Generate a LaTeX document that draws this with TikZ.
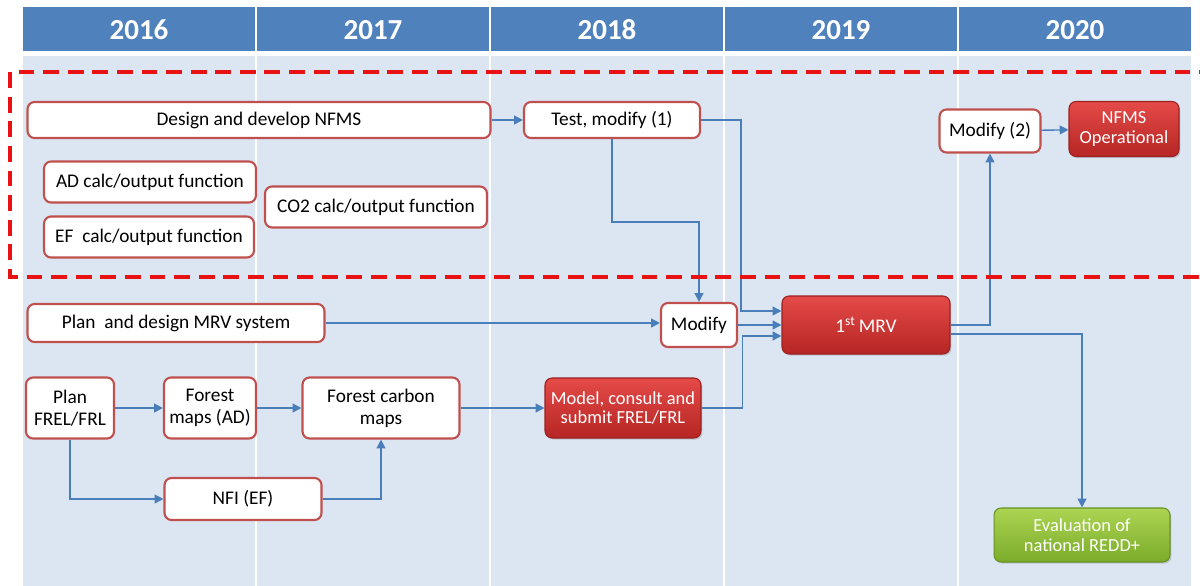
\documentclass[tikz,border=0pt]{standalone}
\usepackage{fontspec}
\setmainfont{Carlito}
\usetikzlibrary{arrows.meta,shadows}
\definecolor{HeadClr}{RGB}{79,129,189}
\definecolor{LaneClr}{RGB}{220,230,242}
\definecolor{EdgeClr}{RGB}{192,80,77}
\definecolor{LinkClr}{RGB}{74,126,187}
\definecolor{RedTop}{RGB}{228,74,72}
\definecolor{RedBot}{RGB}{182,38,36}
\definecolor{GreenTop}{RGB}{172,212,82}
\definecolor{GreenBot}{RGB}{122,172,42}
\definecolor{FrameClr}{RGB}{232,18,18}

\tikzset{
  box/.style={draw=EdgeClr,line width=1.2pt,fill=white,rounded corners=4pt,
    align=center,inner sep=1pt,font=\fontsize{11}{12.5}\selectfont},
  redbox/.style={box,draw=RedBot!85!black,line width=.6pt,top color=RedTop,
    bottom color=RedBot,text=white,font=\fontsize{10.5}{11}\selectfont,
    drop shadow={opacity=.35,shadow xshift=.8pt,shadow yshift=-.9pt}},
  greenbox/.style={redbox,draw=GreenBot!85!black,top color=GreenTop,
    bottom color=GreenBot},
  sized/.style 2 args={minimum width=#1cm,minimum height=#2cm},
  link/.style={draw=LinkClr,line width=.8pt,-{Triangle[length=5pt,width=5pt]}}
}

\begin{document}
\begin{tikzpicture}[x=0.02cm,y=-0.02cm]
\useasboundingbox (0,0) rectangle (1200,585);

% year lanes
\foreach \yr [count=\i from 0] in {2016,2017,2018,2019,2020}{
  \fill[HeadClr] ({23+234*\i},7) rectangle ({21+234*(\i+1)},51);
  \fill[LaneClr] ({23+234*\i},56) rectangle ({21+234*(\i+1)},590);
  \node[text=white,font=\fontsize{16.5}{18}\bfseries\selectfont]
    (h\yr) at ({22+234*\i+117},30) {\yr};
}

% NFMS
\node[box,sized={9.26}{0.72}] (nfms) at (259,120) {Design and develop NFMS};
\node[box,sized={3.52}{0.72}] (test) at (612,120) {Test, modify (1)};
\node[box,sized={4.24}{0.82}] (adcalc) at (150,182) {AD calc/output function};
\node[box,sized={4.2}{0.82}] (efcalc) at (149,237) {EF~ calc/output function};
\node[box,sized={4.44}{0.82}] (cocalc) at (376,207) {CO2 calc/output function};
\node[box,sized={2.02}{0.86}] (modtwo) at (990,131) {Modify (2)};
\node[redbox,sized={2.2}{1.1}] (nfmsop) at (1124,129) {NFMS\\Operational};

% MRV
\node[box,sized={5.94}{0.76}] (mrvplan) at (176,323) {Plan~ and design MRV system};
\node[box,sized={1.52}{0.88}] (modone) at (699,325) {Modify};
\node[redbox,sized={3.36}{1.16},font=\fontsize{11}{12}\selectfont] (mrv) at (866,325) {1\textsuperscript{st}\,MRV};

% FREL/FRL
\node[box,sized={1.76}{1.22}] (frel) at (70,408) {Plan\\FREL/FRL};
\node[box,sized={1.84}{1.22}] (fmaps) at (210,408) {Forest\\maps (AD)};
\node[box,sized={3.14}{1.22}] (fcarbon) at (381,408) {Forest carbon\\maps};
\node[redbox,sized={3.12}{1.2}] (model) at (623,408) {Model, consult and\\submit FREL/FRL};
\node[box,sized={3.14}{0.84}] (nfi) at (243,499) {NFI (EF)};
\node[greenbox,sized={3.52}{1.08}] (redd) at (1082,535) {Evaluation of\\national REDD+};

% links
\draw[link] (nfms) -- (test);
\draw[link] (test.east) -- ++(40,0) |- ([yshift=.28cm]mrv.west);
\draw[link] (test.south) -- ++(0,83) -| (modone.north);
\draw[link] (mrvplan.east) -- (mrvplan.east -| modone.west);
\draw[link] (modone.east) -- (modone.east -| mrv.west);
\draw[link] (model.east) -- ++(41,0) |- ([yshift=-.22cm]mrv.west);
\draw[link] (mrv.east) -| (modtwo.south);
\draw[link] ([yshift=-.18cm]mrv.east) -| (redd.north);
\draw[link] (modtwo) -- (nfmsop);
\draw[link] (frel) -- (fmaps);
\draw[link] (fmaps) -- (fcarbon);
\draw[link] (fcarbon) -- (model);
\draw[link] (frel.south) |- (nfi.west);
\draw[link] (nfi.east) -| (fcarbon.south);

% NFMS frame
\draw[FrameClr,line width=2pt,dash pattern=on 9pt off 5pt]
  (1215,72) -- (10,72) -- (10,277) -- (1215,277);
\end{tikzpicture}
\end{document}
